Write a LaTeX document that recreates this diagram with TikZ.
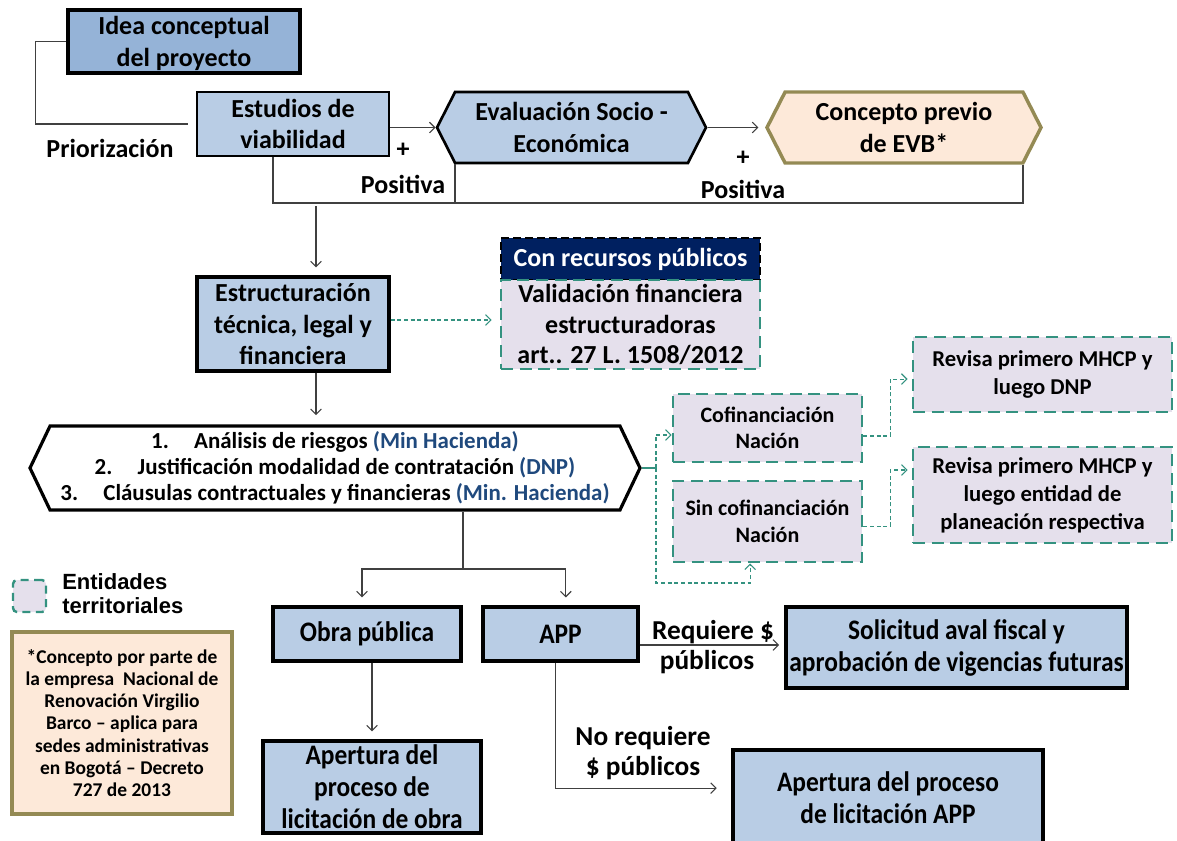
\documentclass[tikz,border=0pt]{standalone}
\usepackage{fontspec}
\usepackage{xcolor}
\setmainfont{Carlito}
\newfontfamily\condfont{Carlito}[FakeStretch=0.9]
\newfontfamily\arialfont{Liberation Sans}
\usetikzlibrary{arrows, arrows.meta, positioning, shapes.symbols}

\definecolor{ideablue}{HTML}{95B3D7}
\definecolor{boxblue}{HTML}{B9CDE5}
\definecolor{peach}{HTML}{FDE9D9}
\definecolor{olive}{HTML}{948A54}
\definecolor{lavender}{HTML}{E5E0EC}
\definecolor{tealline}{RGB}{52,146,128}
\definecolor{navy}{HTML}{002060}
\definecolor{txtblue}{HTML}{1F497D}

\newcommand{\mainsize}{\fontsize{19.5}{23.5}\selectfont}
\newcommand{\midsize}{\fontsize{17}{21}\selectfont}

\begin{document}
\begin{tikzpicture}[x=0.75pt, y=-0.75pt,
    >={Straight Barb[length=4pt,width=8pt]},
    sz/.style 2 args={minimum width=#1*0.75pt, minimum height=#2*0.75pt},
    bluebox/.style={draw, line width=2pt, fill=boxblue, align=center, inner sep=0pt, font=\bfseries\mainsize},
    lowbox/.style={bluebox, font=\condfont\bfseries\fontsize{21.2}{24}\selectfont},
    hexbox/.style={signal, signal to=west and east, draw, line width=2pt, align=center, inner sep=0pt, font=\bfseries\mainsize},
    terrbox/.style={draw=tealline, line width=2.2pt, dash pattern=on 9pt off 5pt, fill=lavender, align=center, inner sep=0pt, font=\bfseries\fontsize{16.5}{20}\selectfont},
    conn/.style={draw=black!75, line width=0.8pt},
    arr/.style={conn, ->},
    tealdash/.style={draw=tealline, line width=0.8pt, dash pattern=on 3pt off 2pt},
    lbl/.style={font=\bfseries\mainsize, inner sep=0pt},
    lowlbl/.style={font=\bfseries\fontsize{20.5}{23.5}\selectfont, inner sep=0pt, align=center}]

\useasboundingbox (0,0) rectangle (1177,840);

% top row
\node[bluebox, fill=ideablue, line width=2.4pt, sz={232}{63}, text depth=0pt] (idea) at (184,41.5) {Idea conceptual\\del proyecto};
\node[bluebox, sz={192}{64}] (estudios) at (293,124) {Estudios de\\viabilidad};
\node[hexbox, fill=boxblue, signal pointer angle=126, sz={269}{71}] (eval) at (571.5,127.5) {Evaluación Socio -\\Económica};
\node[hexbox, fill=peach, draw=olive, line width=2.6pt, signal pointer angle=126, sz={274}{71}] (concepto) at (904,127.5) {Concepto previo\\de EVB*};

\node[lbl] (prior) at (110,148) {Priorización};
\node[lbl] (mas1) at (403,150) {+};
\node[lbl] (pos1) at (403,184) {Positiva};
\node[lbl] (mas2) at (743,158) {+};
\node[lbl] (pos2) at (743,189) {Positiva};

\coordinate (fbl) at (273,203);
\coordinate (fbm) at (455,203);
\coordinate (fbr) at (1023,203);
\coordinate (fbd) at (316,206);

\draw[conn, shorten >=6pt] (idea.west) -- ++(-31,0) |- (estudios.west);
\draw[arr] (eval.west -| estudios.east) -- (eval.west);
\draw[arr, shorten >=5pt] (eval.east) -- (concepto.west);
\draw[conn] (fbl |- estudios.south) -- (fbl) -- (fbr) -- (fbr |- concepto.south);
\draw[conn] (fbm) -- (fbm |- eval.south);

% estructuracion
\node[bluebox, line width=2.4pt, sz={192}{94}] (estructura) at (293,324) {Estructuración\\técnica, legal y\\financiera};
\node[draw, line width=2pt, dash pattern=on 6pt off 3pt, fill=navy, text=white, sz={259}{42}, inner sep=0pt, font=\bfseries\mainsize] (conrec) at (630.5,259) {Con recursos públicos};
\node[terrbox, font=\bfseries\fontsize{19.5}{23}\selectfont, sz={259}{89}] (valid) at (630.5,324.5) {Validación financiera\\estructuradoras\\art.. 27 L. 1508/2012};

\draw[arr, shorten >=6pt] (fbd) -- (fbd |- estructura.north);
\draw[tealdash, ->, shorten >=6pt] (estructura.east |- 0,320) -- (valid.west |- 0,320);

% requisitos
\node[hexbox, fill=white, line width=2.4pt, signal pointer angle=129, sz={610}{84}, font=\bfseries\fontsize{17.2}{19.5}\selectfont] (analisis) at (335,468)
  {1.\hspace{1.1em}Análisis de riesgos \textcolor{txtblue}{(Min Hacienda)}\\
   2.\hspace{1.1em}Justificación modalidad de contratación \textcolor{txtblue}{(DNP)}\\
   3.\hspace{1.1em}Cláusulas contractuales y financieras \textcolor{txtblue}{(Min. Hacienda)}};
\draw[arr, shorten >=7pt] ([xshift=17.25pt]estructura.south) -- ([xshift=17.25pt]estructura.south |- analisis.north);

% entidades territoriales
\node[terrbox, sz={189}{68}] (cofin) at (767.5,428) {Cofinanciación\\Nación};
\node[terrbox, sz={189}{81}] (sincofin) at (767.5,521.5) {Sin cofinanciación\\Nación};
\node[terrbox, font=\bfseries\fontsize{17}{21}\selectfont, sz={259}{75}] (revisa1) at (1042.5,374.5) {Revisa primero MHCP y\\luego DNP};
\node[terrbox, font=\bfseries\fontsize{17}{21}\selectfont, sz={259}{96}] (revisa2) at (1042.5,495) {Revisa primero MHCP y\\luego entidad de\\planeación respectiva};

\coordinate (split) at (656,468);
\coordinate (sinb) at (656,583);
\draw[draw=tealline, line width=0.8pt] (analisis.east) -- (split);
\draw[tealdash, ->] (split) |- ([yshift=-5.25pt]cofin.west);
\draw[tealdash, ->] (split) -- (sinb) -| ([xshift=-13pt]sincofin.south);
\draw[tealdash, ->, shorten >=3pt] ([yshift=-6pt]cofin.east) -- ++(27,0) |- ([yshift=-3.4pt]revisa1.west);
\draw[tealdash, ->, shorten >=3pt] ([yshift=-3.4pt]sincofin.east) -- ++(27,0) |- ([yshift=18.75pt]revisa2.west);

% leyenda
\node[terrbox, line width=1.8pt, dash pattern=on 6pt off 4pt, rounded corners=3pt, sz={33}{32}] (ley) at (29.5,596) {};
\node[font=\arialfont\bfseries\fontsize{16.5}{18}\selectfont, align=left, inner sep=0pt, anchor=west] (leytxt) at (62,594) {Entidades\\territoriales};
\node[draw=olive, line width=2.6pt, fill=peach, sz={220}{182}, align=center, inner sep=0pt, font=\bfseries\fontsize{14.6}{16.6}\selectfont] (nota) at (122,723)
  {*Concepto por parte de\\la empresa\ \ Nacional de\\Renovación Virgilio\\Barco -- aplica para\\sedes administrativas\\en Bogotá -- Decreto\\727 de 2013};

% modalidades
\node[lowbox, line width=2.4pt, sz={188}{54}] (obra) at (367,634) {Obra pública};
\node[lowbox, line width=2.4pt, sz={155}{54}] (app) at (560.5,634) {APP};
\node[lowbox, line width=2.4pt, sz={341}{81}] (solicitud) at (956.5,647.5) {Solicitud aval fiscal y\\aprobación de vigencias futuras};
\node[lowbox, line width=2.4pt, sz={218}{92}] (apobra) at (372,787) {Apertura del\\proceso de\\licitación de obra};
\node[lowbox, line width=2.4pt, sz={310}{95}] (apapp) at (888,797.5) {Apertura del proceso\\de licitación APP};

\coordinate (fork) at (463,569);
\draw[conn] (analisis.south -| fork) -- (fork);
\draw[arr, shorten >=6pt] (fork) -| ([xshift=-3.75pt]obra.north);
\draw[arr, shorten >=6pt] (fork) -| ([xshift=4pt]app.north);
\draw[arr, shorten >=6pt] (apobra.north |- obra.south) -- (apobra.north);
\draw[arr, shorten >=4pt] ([yshift=-8.25pt]app.east) -- ([yshift=-8.25pt]app.east -| solicitud.west);
\draw[arr, shorten >=11pt] ([xshift=-4pt]app.south) |- ([yshift=7pt]apapp.west);

\node[lowlbl] (req1) at (713,632) {Requiere \$};
\node[lowlbl] (req2) at (707,662) {públicos};
\node[lowlbl] (noreq1) at (643,738) {No requiere};
\node[lowlbl] (noreq2) at (643,768) {\$ públicos};
\end{tikzpicture}
\end{document}
